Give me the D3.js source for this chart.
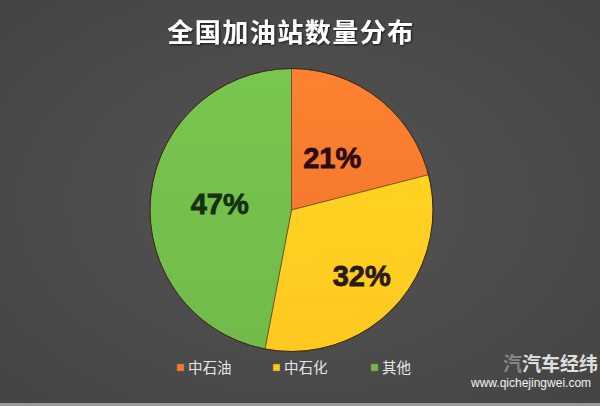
<!DOCTYPE html>
<html><head><meta charset="utf-8">
<script src="https://cdn.jsdelivr.net/npm/d3@7"></script>
<style>html,body{margin:0;padding:0;background:#4a4a4a;}svg{display:block;}</style>
</head><body>
<svg id="c" width="600" height="406"></svg>
<script>
const categories = ["中石油", "中石化", "其他"];
const values = [21, 32, 47];
const labels = ["21%", "32%", "47%"];
const title = "全国加油站数量分布";

const colors = ["#F57A2E", "#FFC820", "#72BB4B"];
const labelColors = ["#2a0c12", "#2a1a10", "#14300e"];
const labelRadius = [0.47, 0.68, 0.51];

const svg = d3.select("#c");
const defs = svg.append("defs");
const bg = defs.append("radialGradient").attr("id","bg").attr("cx","50%").attr("cy","50%").attr("r","75%");
bg.append("stop").attr("offset","0%").attr("stop-color","#545454");
bg.append("stop").attr("offset","100%").attr("stop-color","#434343");
svg.append("rect").attr("width",600).attr("height",406).attr("fill","url(#bg)");
svg.append("rect").attr("x",0).attr("y",403).attr("width",600).attr("height",3).attr("fill","#9a9a9a");

const f = defs.append("filter").attr("id","sh").attr("x","-10%").attr("y","-30%").attr("width","120%").attr("height","160%");
f.append("feDropShadow").attr("dx",1).attr("dy",1).attr("stdDeviation",1.2).attr("flood-color","#000").attr("flood-opacity",0.7);

svg.append("text").attr("x",291).attr("y",42).attr("text-anchor","middle")
  .attr("font-family","'Noto Sans CJK SC'").attr("font-weight","bold").attr("font-size",26)
  .attr("letter-spacing",1.5).attr("fill","#ffffff").attr("filter","url(#sh)").text(title);

const cx = 291.5, cy = 210, R = 141.5;
const g = svg.append("g").attr("transform",`translate(${cx},${cy})`);
const pie = d3.pie().sort(null).value(d=>d);
const arcs = pie(values);
const arc = d3.arc().innerRadius(0).outerRadius(R);

colors.forEach((c,i)=>{
  const lg = defs.append("linearGradient").attr("id","g"+i).attr("x1","0").attr("y1","0").attr("x2","0").attr("y2","1");
  lg.append("stop").attr("offset","0%").attr("stop-color",d3.color(c).brighter(0.15));
  lg.append("stop").attr("offset","100%").attr("stop-color",c);
});

g.selectAll("path.s").data(arcs).join("path").attr("class","s")
  .attr("d",arc).attr("fill",(d,i)=>`url(#g${i})`)
  .attr("stroke","#5a3a1a").attr("stroke-width",0.6);
g.append("circle").attr("r",R).attr("fill","none").attr("stroke","#3a2a18").attr("stroke-width",1);

g.selectAll("text.l").data(arcs).join("text").attr("class","l")
  .attr("transform",(d,i)=>{
    const r = R*labelRadius[i];
    const p = d3.arc().innerRadius(r).outerRadius(r).centroid(d);
    return `translate(${p[0]},${p[1]})`;})
  .attr("text-anchor","middle").attr("dy","0.36em")
  .attr("font-family","'Liberation Sans', Arial, sans-serif").attr("font-weight","bold").attr("font-size",29)
  .attr("fill",(d,i)=>labelColors[i]).attr("stroke",(d,i)=>labelColors[i]).attr("stroke-width",0.8)
  .text((d,i)=>labels[i]);

// legend
const legX = [177, 273, 371];
const leg = svg.append("g");
categories.forEach((c,i)=>{
  leg.append("rect").attr("x",legX[i]).attr("y",364).attr("width",7).attr("height",7)
    .attr("fill",colors[i]).attr("stroke","#8a6a40").attr("stroke-width",0.5);
  leg.append("text").attr("x",legX[i]+11).attr("y",373)
    .attr("font-family","'Noto Sans CJK SC'").attr("font-size",14.5).attr("fill","#e6e6e6").text(c);
});

// watermark
svg.append("text").attr("x",503).attr("y",371).attr("font-family","'Noto Sans CJK SC'").attr("font-weight","bold")
  .attr("font-size",19).attr("fill","#ffffff").attr("fill-opacity",0.35).text("汽");
svg.append("text").attr("x",522).attr("y",371).attr("font-family","'Noto Sans CJK SC'").attr("font-weight","bold")
  .attr("font-size",19).attr("fill","#f4f4f4").attr("fill-opacity",0.9).text("汽车经纬");
svg.append("text").attr("x",471).attr("y",387).attr("font-family","'Liberation Sans', Arial, sans-serif")
  .attr("font-size",12).attr("fill","#f4f4f4").text("www.qichejingwei.com");
</script>
</body></html>
